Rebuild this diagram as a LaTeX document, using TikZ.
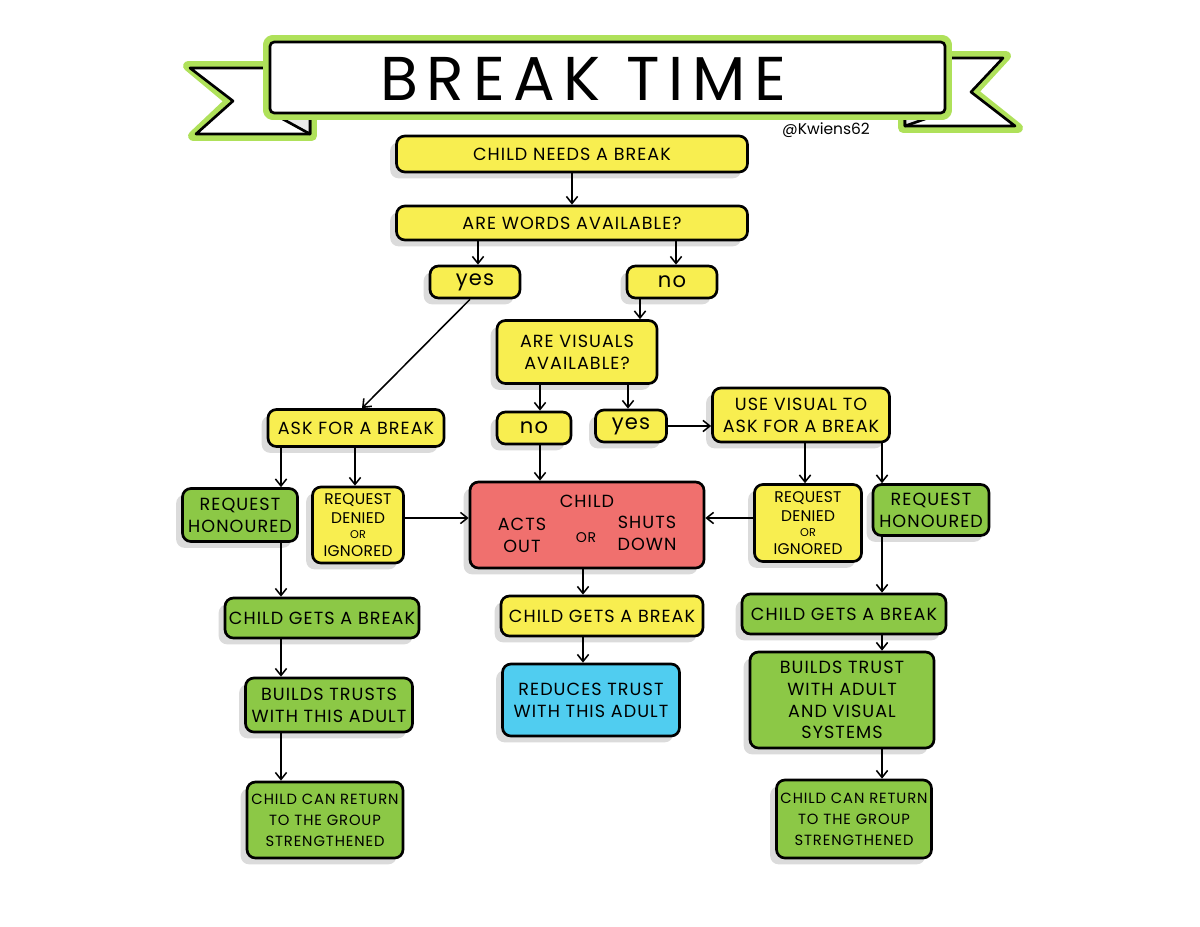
\documentclass[tikz,border=0pt]{standalone}
\usepackage{fontspec}
\setmainfont{Poppins}[LetterSpace=6]
\usetikzlibrary{arrows.meta,shadows,calc}
\definecolor{ylw}{RGB}{248,238,80}
\definecolor{grn}{RGB}{140,200,70}
\definecolor{rd}{RGB}{240,112,110}
\definecolor{blu}{RGB}{80,205,240}
\definecolor{bgrn}{RGB}{175,225,90}
\newcommand\bx[7][]{\node[box, fill=#6, minimum width=#4*0.025cm, minimum height=#5*0.025cm, #1] (#2) at (#3) {#7};}
\begin{document}
\begin{tikzpicture}[x=0.025cm,y=-0.025cm,
  box/.style={draw=black, line width=1.9pt, rounded corners=6pt, align=center, inner sep=0pt,
    general shadow={fill=black!14, shadow xshift=-4.5pt, shadow yshift=-4.5pt},
    font=\fontsize{12.5}{15.5}\selectfont},
  lbl/.style={align=center, inner sep=0pt, font=\fontsize{12.5}{15.5}\selectfont},
  sm/.style={font=\fontsize{10.5}{15}\selectfont},
  rdn/.style={font=\fontsize{11}{13.5}\selectfont\addfontfeatures{LetterSpace=2}},
  yn/.style={font=\fontsize{15}{16}\selectfont},
  arr/.style={line width=1.1pt, -{Straight Barb[length=5pt,width=8pt,line width=1.1pt]}},
  ban/.style={fill=white, draw=black, line width=1.9pt, line join=round},
  bang/.style={draw=bgrn, line width=7pt, line join=round}
]
\useasboundingbox[fill=white] (0,0) rectangle (1200,926);

% banner
\draw[bang] (300,66) -- (188,66) -- (230,101) -- (193,136) -- (312,136) -- (312,114);
\draw[ban] (300,68) -- (190,68) -- (233,101) -- (196,134) -- (310,134) -- (310,112);
\draw[bang] (920,56) -- (1006,56) -- (973,92) -- (1018,128) -- (903,128) -- (903,113);
\draw[ban] (920,58) -- (1003,58) -- (971,92) -- (1015,126) -- (905,126) -- (905,112);
\draw[ban, fill=black!8] (270,112) -- (310,112) -- (310,134) -- cycle;
\draw[ban, fill=black!8] (945,112) -- (905,112) -- (905,126) -- cycle;
\draw[bang, rounded corners=3pt] (268,40) rectangle (947,115);
\node[ban, rounded corners=3pt, minimum width=675*0.025cm, minimum height=71*0.025cm, inner sep=0pt] (title) at (607.5,77.5) {};
\node[font=\fontsize{44}{46}\selectfont\addfontfeatures{LetterSpace=14}] (tt) at (583,79) {BREAK TIME};
\node[font=\fontsize{11}{12}\selectfont\addfontfeatures{LetterSpace=0}] (tag) at (826,130) {@Kwiens62};

% boxes
\bx{cnb}{572,154}{351}{36}{ylw}{CHILD NEEDS A BREAK}
\bx{awa}{572,223}{351}{34}{ylw}{ARE WORDS AVAILABLE?}
\bx[yn]{yes1}{475,282}{90}{32}{ylw}{yes}
\bx[yn]{no1}{672,282}{90}{32}{ylw}{no}
\bx{ava}{577,352}{160}{63}{ylw}{ARE VISUALS\\AVAILABLE?}
\bx[yn]{no2}{534,428}{74}{32}{ylw}{no}
\bx[yn]{yes2}{631,426}{71}{32}{ylw}{yes}
\bx{uva}{801,415}{177}{54}{ylw}{USE VISUAL TO\\ASK FOR A BREAK}
\bx{ask}{356,428}{176}{37}{ylw}{ASK FOR A BREAK}
\bx{rhl}{240,515}{115}{53}{grn}{REQUEST\\HONOURED}
\bx[rdn]{rdl}{358,525}{91}{76}{ylw}{REQUEST\\DENIED\\[-3pt]{\fontsize{8}{9}\selectfont OR}\\[-1pt]IGNORED}
\bx{child}{587,525}{234}{86}{rd}{}
\node[lbl] (ch1) at (587,501) {CHILD};
\node[lbl] (ch2) at (522,535) {ACTS\\OUT};
\node[lbl, font=\fontsize{10}{11}\selectfont] (ch3) at (586,538) {OR};
\node[lbl] (ch4) at (647,533) {SHUTS\\DOWN};
\bx[rdn]{rdr}{808,523}{107}{77}{ylw}{REQUEST\\DENIED\\[-3pt]{\fontsize{8}{9}\selectfont OR}\\[-1pt]IGNORED}
\bx{rhr}{931,510}{116}{51}{grn}{REQUEST\\HONOURED}
\bx{cgl}{322,618}{194}{40}{grn}{CHILD GETS A BREAK}
\bx{cgc}{602,616}{202}{40}{ylw}{CHILD GETS A BREAK}
\bx{cgr}{844,614}{204}{40}{grn}{CHILD GETS A BREAK}
\bx{btl}{329,705}{167}{54}{grn}{BUILDS TRUSTS\\WITH THIS ADULT}
\bx{rt}{591,700}{177}{72}{blu}{REDUCES TRUST\\WITH THIS ADULT}
\bx{btr}{842,700}{184}{96}{grn}{BUILDS TRUST\\WITH ADULT\\AND VISUAL\\SYSTEMS}
\bx[sm]{crl}{325,820}{156}{76}{grn}{CHILD CAN RETURN\\TO THE GROUP\\STRENGTHENED}
\bx[sm]{crr}{854,819}{155}{78}{grn}{CHILD CAN RETURN\\TO THE GROUP\\STRENGTHENED}

% connectors
\draw[arr] (cnb) -- (awa);
\draw[arr] (478,0 |- awa.south) -- (478,0 |- yes1.north);
\draw[arr] (676,0 |- awa.south) -- (676,0 |- no1.north);
\draw[arr] (470,0 |- yes1.south) -- (362,0 |- ask.north);
\draw[arr] (640,0 |- no1.south) -- (640,0 |- ava.north);
\draw[arr] (540,0 |- ava.south) -- (540,0 |- no2.north);
\draw[arr] (628,0 |- ava.south) -- (628,0 |- yes2.north);
\draw[arr] (yes2.east) -- (uva.west |- yes2.east);
\draw[arr] (281,0 |- ask.south) -- (281,0 |- rhl.north);
\draw[arr] (355,0 |- ask.south) -- (355,0 |- rdl.north);
\draw[arr] (rdl.east |- 0,518) -- (child.west |- 0,518);
\draw[arr] (540,0 |- no2.south) -- (540,0 |- child.north);
\draw[arr] (rdr.west |- 0,518) -- (child.east |- 0,518);
\draw[arr] (805,0 |- uva.south) -- (805,0 |- rdr.north);
\draw[arr] (882,0 |- uva.south) -- (882,0 |- rhr.north);
\draw[arr] (281,0 |- rhl.south) -- (281,0 |- cgl.north);
\draw[arr] (583,0 |- child.south) -- (583,0 |- cgc.north);
\draw[arr] (882,0 |- rhr.south) -- (882,0 |- cgr.north);
\draw[arr] (281,0 |- cgl.south) -- (281,0 |- btl.north);
\draw[arr] (583,0 |- cgc.south) -- (583,0 |- rt.north);
\draw[arr] (882,0 |- cgr.south) -- (882,0 |- btr.north);
\draw[arr] (281,0 |- btl.south) -- (281,0 |- crl.north);
\draw[arr] (882,0 |- btr.south) -- (882,0 |- crr.north);
\end{tikzpicture}
\end{document}
